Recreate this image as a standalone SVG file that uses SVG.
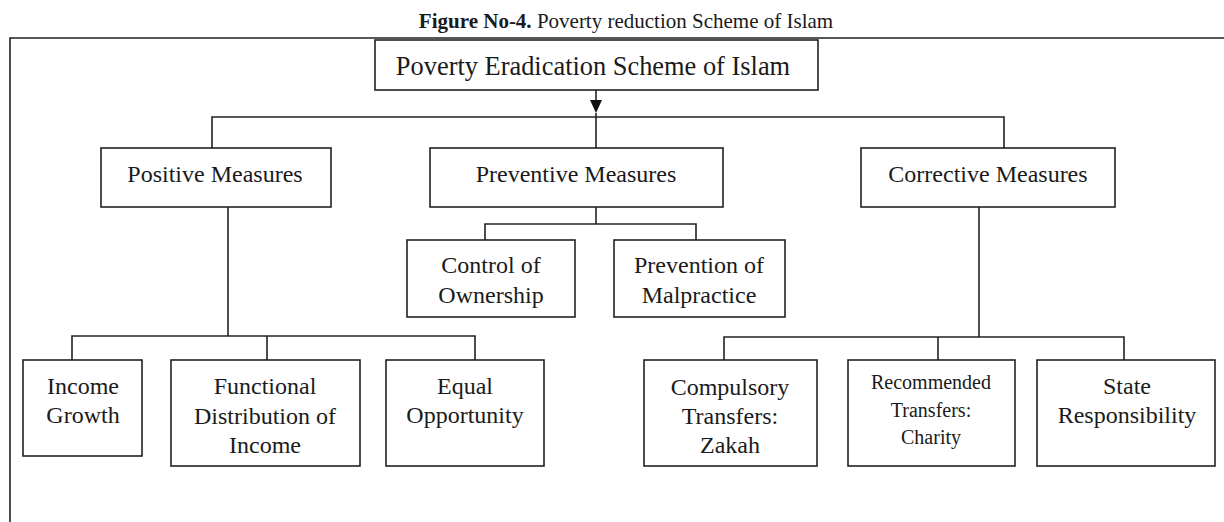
<svg xmlns="http://www.w3.org/2000/svg" width="1224" height="522" viewBox="0 0 1224 522">
<style>
.box{fill:#fff;stroke:#222;stroke-width:1.6}
.ln{fill:none;stroke:#222;stroke-width:1.6}
text{font-family:"Liberation Serif","Times New Roman",serif;fill:#1a1a1a;text-anchor:middle}
.t{font-size:24px}
.tt{font-size:26.4px}
.s{font-size:20px}
.cap{font-size:21px}
</style>
<rect width="1224" height="522" fill="#fff"/>
<text class="cap" x="626" y="28"><tspan font-weight="bold">Figure No-4.</tspan><tspan> Poverty reduction Scheme of Islam</tspan></text>
<polyline class="ln" points="10,522 10,38 1224,38"/>

<g id="connectors">
<line class="ln" x1="596" y1="90" x2="596" y2="101"/>
<path d="M590,100 L602,100 L596,113 Z" fill="#111"/>
<polyline class="ln" points="212,148 212,117 1004,117 1004,148"/>
<line class="ln" x1="596" y1="113" x2="596" y2="148"/>
<line class="ln" x1="596" y1="207" x2="596" y2="224"/>
<polyline class="ln" points="485,240 485,224 696,224 696,240"/>
<line class="ln" x1="228" y1="207" x2="228" y2="336"/>
<polyline class="ln" points="72,360 72,336 475,336 475,360"/>
<line class="ln" x1="267" y1="336" x2="267" y2="360"/>
<line class="ln" x1="979" y1="207" x2="979" y2="337"/>
<polyline class="ln" points="724,360 724,337 1124,337 1124,360"/>
<line class="ln" x1="938" y1="337" x2="938" y2="360"/>
</g>

<g id="root">
<rect class="box" x="375" y="40" width="443" height="50"/>
<text class="tt" y="75"><tspan x="593">Poverty Eradication Scheme of Islam</tspan></text>
</g>
<g id="positive">
<rect class="box" x="101" y="148" width="230" height="59"/>
<text class="t" y="182"><tspan x="215">Positive Measures</tspan></text>
</g>
<g id="preventive">
<rect class="box" x="430" y="148" width="293" height="59"/>
<text class="t" y="182"><tspan x="576">Preventive Measures</tspan></text>
</g>
<g id="corrective">
<rect class="box" x="861" y="148" width="254" height="59"/>
<text class="t" y="182"><tspan x="988">Corrective Measures</tspan></text>
</g>
<g id="control">
<rect class="box" x="407" y="240" width="168" height="77"/>
<text class="t" y="273"><tspan x="491">Control of</tspan><tspan x="491" dy="30">Ownership</tspan></text>
</g>
<g id="prevention">
<rect class="box" x="614" y="240" width="171" height="77"/>
<text class="t" y="273"><tspan x="699">Prevention of</tspan><tspan x="699" dy="30">Malpractice</tspan></text>
</g>
<g id="income">
<rect class="box" x="23" y="360" width="119" height="96"/>
<text class="t" y="394"><tspan x="83">Income</tspan><tspan x="83" dy="29">Growth</tspan></text>
</g>
<g id="functional">
<rect class="box" x="171" y="360" width="189" height="106"/>
<text class="t" y="394"><tspan x="265">Functional</tspan><tspan x="265" dy="29.5">Distribution of</tspan><tspan x="265" dy="29.5">Income</tspan></text>
</g>
<g id="equal">
<rect class="box" x="386" y="360" width="158" height="106"/>
<text class="t" y="394"><tspan x="465">Equal</tspan><tspan x="465" dy="29">Opportunity</tspan></text>
</g>
<g id="compulsory">
<rect class="box" x="644" y="360" width="173" height="106"/>
<text class="t" y="395"><tspan x="730">Compulsory</tspan><tspan x="730" dy="29">Transfers:</tspan><tspan x="730" dy="29">Zakah</tspan></text>
</g>
<g id="recommended">
<rect class="box" x="848" y="360" width="167" height="106"/>
<text class="s" y="389"><tspan x="931">Recommended</tspan><tspan x="931" dy="27.5">Transfers:</tspan><tspan x="931" dy="27.5">Charity</tspan></text>
</g>
<g id="state">
<rect class="box" x="1037" y="360" width="178" height="106"/>
<text class="t" y="394"><tspan x="1127">State</tspan><tspan x="1127" dy="29">Responsibility</tspan></text>
</g>
</svg>
